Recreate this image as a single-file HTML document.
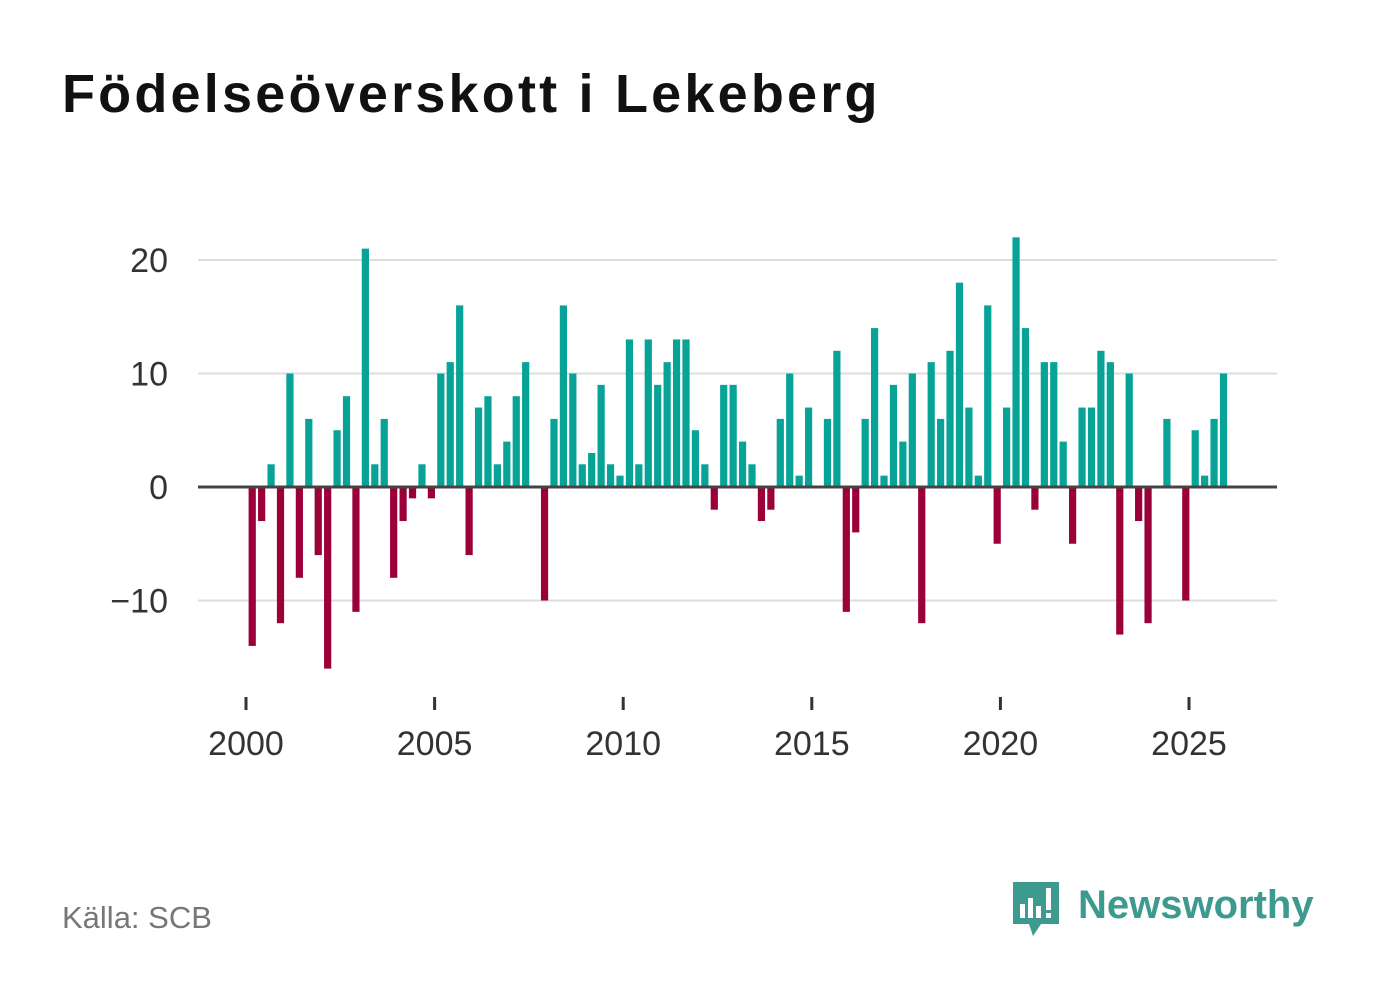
<!DOCTYPE html>
<html><head><meta charset="utf-8">
<style>
body{margin:0;background:#fff;width:1382px;height:999px;overflow:hidden;font-family:"Liberation Sans",sans-serif;}
#title{position:absolute;left:62px;top:63px;font-size:54px;font-weight:bold;color:#111;letter-spacing:3.2px;}
#source{position:absolute;left:62px;top:900px;font-size:31px;color:#777;}
#logo{position:absolute;left:1010px;top:878px;}
</style></head><body>
<div id="title">Födelseöverskott i Lekeberg</div>
<svg id="chart" width="1382" height="999" style="position:absolute;left:0;top:0"></svg>
<div id="source">Källa: SCB</div>
<div id="logo">
<svg width="320" height="64">
<path d="M3 4 h46 v42 h-18 l-8 12 l-4 -12 h-16z" fill="#3d9a8f"/>
<rect x="10" y="26" width="5" height="14" fill="#fff"/><rect x="18" y="20" width="5" height="20" fill="#fff"/><rect x="26" y="28" width="5" height="12" fill="#fff"/><rect x="36" y="10" width="5" height="22" fill="#fff"/><rect x="36" y="35" width="5" height="5" fill="#fff"/>
<text x="68" y="40" font-family="Liberation Sans, sans-serif" font-size="40" font-weight="bold" fill="#3d9a8f">Newsworthy</text>
</svg></div>
<script>
const startYear = 2000;
const values = [-14,-3,2,-12,10,-8,6,-6,-16,5,8,-11,21,2,6,-8,-3,-1,2,-1,10,11,16,-6,7,8,2,4,8,11,0,-10,6,16,10,2,3,9,2,1,13,2,13,9,11,13,13,5,2,-2,9,9,4,2,-3,-2,6,10,1,7,0,6,12,-11,-4,6,14,1,9,4,10,-12,11,6,12,18,7,1,16,-5,7,22,14,-2,11,11,4,-5,7,7,12,11,-13,10,-3,-12,0,6,0,-10,5,1,6,10];
const yTicks = [-10,0,10,20];
const xTicks = [2000,2005,2010,2015,2020,2025];
const svg = document.getElementById('chart');
const NS = 'http://www.w3.org/2000/svg';
function y(v){return 487 - v*11.35;}
function x(yr){return 246 + (yr-2000)*37.72;}
function mk(t,a){const e=document.createElementNS(NS,t);for(const k in a)e.setAttribute(k,a[k]);svg.appendChild(e);return e;}
yTicks.forEach(t=>{
  if(t!==0){const l=mk('line',{x1:198,x2:1277,y1:y(t),y2:y(t),stroke:'#ddd','stroke-width':2});
  
  }
  const tx=mk('text',{x:168,y:y(t)+12,'text-anchor':'end','font-size':34,fill:'#333','font-family':'Liberation Sans, sans-serif'});
  tx.textContent=t<0?'\u2212'+Math.abs(t):t;
  
  
});
values.forEach((v,i)=>{
  const cx=x(startYear+(i+0.5)/4)+1.5;
  const r=mk('rect',{x:cx-3.6,y:Math.min(y(v),y(0)),width:7.2,height:Math.abs(y(v)-y(0)),fill:v>=0?'#06a396':'#9b0039'});
  
  
});
const z=mk('line',{x1:198,x2:1277,y1:y(0),y2:y(0),stroke:'#444','stroke-width':3});


xTicks.forEach(t=>{
  const l=mk('line',{x1:x(t),x2:x(t),y1:697,y2:710,stroke:'#333','stroke-width':3});
  
  
  const tx=mk('text',{x:x(t),y:755,'text-anchor':'middle','font-size':34,fill:'#333','font-family':'Liberation Sans, sans-serif'});
  tx.textContent=t;
  
  
});
</script>
</body></html>
